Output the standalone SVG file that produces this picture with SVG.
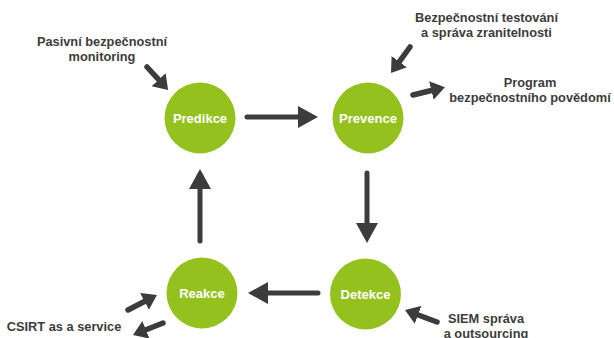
<svg xmlns="http://www.w3.org/2000/svg" width="614" height="338" viewBox="0 0 614 338">
<style>
.node{fill:#95c11f}
.nl{font-family:"Liberation Sans",Arial,sans-serif;font-weight:bold;font-size:13px;fill:#fff;text-anchor:middle}
.lb{font-family:"Liberation Sans",Arial,sans-serif;font-weight:bold;font-size:12.8px;fill:#3c3c3c;text-anchor:middle}
.big{stroke:#3c3c3c;stroke-width:5;stroke-linecap:round;fill:none;marker-end:url(#hb)}
.sm{stroke:#3c3c3c;stroke-width:5.5;stroke-linecap:round;fill:none;marker-end:url(#hs)}
</style>
<defs>
<marker id="hb" markerUnits="userSpaceOnUse" markerWidth="22" markerHeight="24" viewBox="0 -12 22 24" refX="2" refY="0" orient="auto"><path d="M0,-11 L20,0 L0,11 z" fill="#3c3c3c"/></marker>
<marker id="hs" markerUnits="userSpaceOnUse" markerWidth="17" markerHeight="20" viewBox="0 -10 17 20" refX="2" refY="0" orient="auto"><path d="M0,-9.5 L14,0 L0,9.5 z" fill="#3c3c3c"/></marker>
</defs>
<rect width="614" height="338" fill="#fff"/>
<g id="connectors">
<line class="big" x1="247" y1="117" x2="300" y2="117"/>
<line class="big" x1="367" y1="173" x2="367" y2="225"/>
<line class="big" x1="200" y1="241" x2="200" y2="187"/>
<line class="big" x1="318" y1="293" x2="266" y2="293"/>
<line class="sm" x1="147" y1="67" x2="160" y2="81.2"/>
<line class="sm" x1="410" y1="47" x2="398.1" y2="63.3"/>
<line class="sm" x1="413" y1="95" x2="433.3" y2="90"/>
<line class="sm" x1="128" y1="310" x2="146.3" y2="300.5"/>
<line class="sm" x1="163" y1="323" x2="144.1" y2="330.5"/>
<line class="sm" x1="437" y1="322" x2="416.2" y2="314.2"/>
</g>
<g id="predikce"><circle class="node" cx="200" cy="118" r="35.5"/><text class="nl" x="200" y="122.5">Predikce</text></g>
<g id="prevence"><circle class="node" cx="368" cy="118" r="35.5"/><text class="nl" x="368" y="122.5">Prevence</text></g>
<g id="detekce"><circle class="node" cx="365.5" cy="294" r="35.5"/><text class="nl" x="365.5" y="298.5">Detekce</text></g>
<g id="reakce"><circle class="node" cx="202" cy="293" r="35.5"/><text class="nl" x="202" y="297.5">Reakce</text></g>
<g id="labels">
<text class="lb" x="102" y="46">Pasivní bezpečnostní</text>
<text class="lb" x="102" y="61">monitoring</text>
<text class="lb" x="486.5" y="22">Bezpečnostní testování</text>
<text class="lb" x="486.5" y="37">a správa zranitelnosti</text>
<text class="lb" x="530" y="87">Program</text>
<text class="lb" x="530" y="102">bezpečnostního povědomí</text>
<text class="lb" x="64" y="331">CSIRT as a service</text>
<text class="lb" x="486" y="323">SIEM správa</text>
<text class="lb" x="486" y="337.5">a outsourcing</text>
</g>
</svg>
